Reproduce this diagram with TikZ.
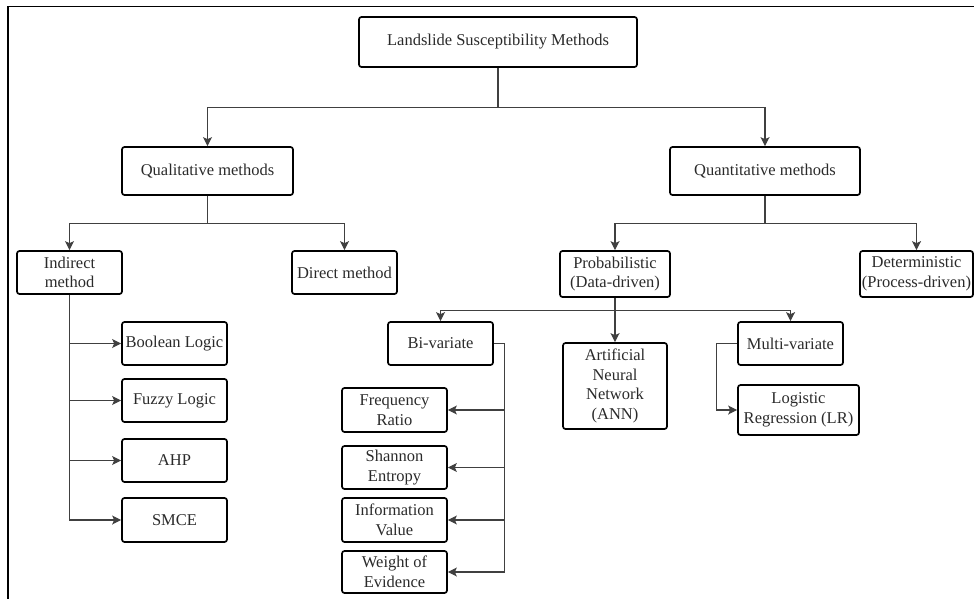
\documentclass[tikz,border=0pt]{standalone}
\usepackage{fontspec}
\setmainfont{Liberation Serif}
\usetikzlibrary{arrows.meta,calc}
\definecolor{txt}{HTML}{2A2A2A}
\definecolor{conn}{HTML}{404040}
\tikzset{
  box/.style={draw=black, line width=1.7pt, rounded corners=2.5pt, align=center,
    inner sep=0pt, text=txt, font=\fontsize{16.5}{19.5}\selectfont},
  conline/.style={draw=conn, line width=1.2pt},
  arr/.style={conline, -{Stealth[length=9pt,width=9pt,inset=2pt]}}
}
\begin{document}
\begin{tikzpicture}[x=1pt,y=-1pt]
\useasboundingbox (0,0) rectangle (974,599);
% frame
\draw[line width=1.8pt] (8,599) -- (8,6.5) -- (974,6.5);

% nodes
\node[box, minimum width=278pt, minimum height=50pt] (top) at (498,42) {Landslide Susceptibility Methods};
\node[box, minimum width=171pt, minimum height=48pt] (qual) at (207.5,171) {Qualitative methods};
\node[box, minimum width=190pt, minimum height=48pt] (quan) at (765,171) {Quantitative methods};

\node[box, minimum width=105pt, minimum height=43pt] (indirect) at (69.5,272.5) {Indirect\\method};
\node[box, minimum width=105pt, minimum height=43pt] (direct) at (344.5,272.5) {Direct method};
\node[box, minimum width=110pt, minimum height=46pt] (prob) at (615,274) {Probabilistic\\(Data-driven)};
\node[box, minimum width=113pt, minimum height=46pt] (det) at (916.5,274) {Deterministic\\(Process-driven)};

\node[box, minimum width=105pt, minimum height=43pt] (boolean) at (174.5,343.5) {Boolean Logic};
\node[box, minimum width=105pt, minimum height=43pt] (fuzzy) at (174.5,400.5) {Fuzzy Logic};
\node[box, minimum width=105pt, minimum height=43pt] (ahp) at (174.5,460.5) {AHP};
\node[box, minimum width=105pt, minimum height=44pt] (smce) at (174.5,520) {SMCE};

\node[box, minimum width=105pt, minimum height=43pt] (bivar) at (440.5,343.5) {Bi-variate};
\node[box, minimum width=105pt, minimum height=44pt] (freq) at (394.5,410) {Frequency\\Ratio};
\node[box, minimum width=105pt, minimum height=43pt] (shannon) at (394.5,467.5) {Shannon\\Entropy};
\node[box, minimum width=105pt, minimum height=44pt] (info) at (394.5,520) {Information\\Value};
\node[box, minimum width=105pt, minimum height=42pt] (weight) at (394.5,572) {Weight of\\Evidence};

\node[box, minimum width=104pt, minimum height=86pt] (ann) at (615,386) {Artificial\\Neural\\Network\\(ANN)};
\node[box, minimum width=105pt, minimum height=43pt] (multi) at (790.5,343.5) {Multi-variate};
\node[box, minimum width=121pt, minimum height=50pt] (lr) at (798.5,410) {Logistic\\Regression (LR)};

% connectors
\draw[conline] (top.south) -- ++(0,40) coordinate (j1);
\draw[arr] (j1) -| (qual.north);
\draw[arr] (j1) -| (quan.north);

\draw[conline] (qual.south) -- ++(0,28) coordinate (j2);
\draw[arr] (j2) -| (indirect.north);
\draw[arr] (j2) -| (direct.north);

\draw[conline] (quan.south) -- ++(0,28) coordinate (j3);
\draw[arr] (j3) -| (prob.north);
\draw[arr] (j3) -| (det.north);

\draw[arr] (prob.south) -- (ann.north);
\coordinate (j4) at ($(prob.south)+(0,13)$);
\draw[arr] (j4) -| (bivar.north);
\draw[arr] (j4) -| (multi.north);

\draw[arr] (indirect.south) |- (smce.west);
\draw[arr] (indirect.south |- boolean.west) -- (boolean.west);
\draw[arr] (indirect.south |- fuzzy.west) -- (fuzzy.west);
\draw[arr] (indirect.south |- ahp.west) -- (ahp.west);

\draw[conline] (bivar.east) -- ++(11,0) coordinate (j5);
\draw[arr] (j5) |- (weight.east);
\draw[arr] (j5 |- freq.east) -- (freq.east);
\draw[arr] (j5 |- shannon.east) -- (shannon.east);
\draw[arr] (j5 |- info.east) -- (info.east);

\draw[conline] (multi.west) -- ++(-21,0) coordinate (j6);
\draw[arr] (j6) |- (lr.west);
\end{tikzpicture}
\end{document}
